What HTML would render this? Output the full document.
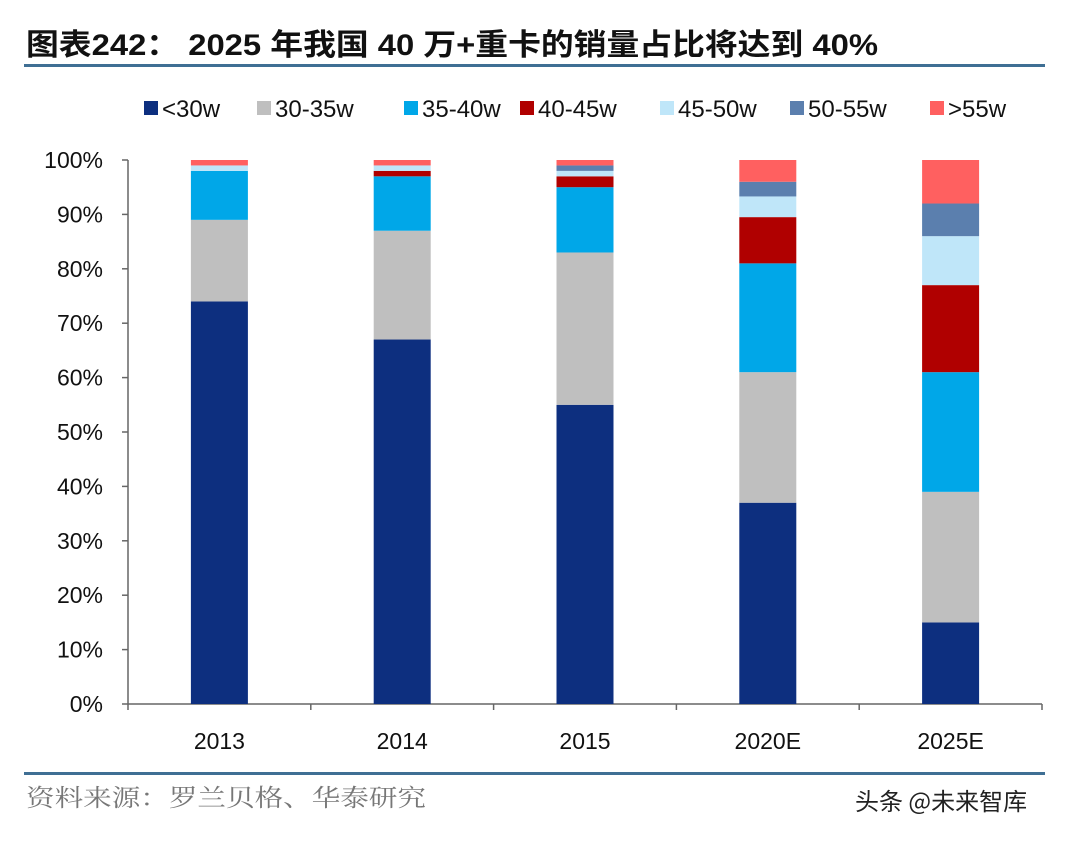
<!DOCTYPE html>
<html><head><meta charset="utf-8"><style>
body{margin:0;background:#fff;width:1080px;height:836px;overflow:hidden;font-family:"Liberation Sans","Noto Sans CJK SC",sans-serif}
</style></head><body>
<svg width="1080" height="836" xmlns="http://www.w3.org/2000/svg">
<text x="26" y="55" font-size="30" font-weight="bold" fill="#111" textLength="852" lengthAdjust="spacingAndGlyphs" font-family="'Liberation Sans','Noto Sans CJK SC',sans-serif">图表242： 2025 年我国 40 万+重卡的销量占比将达到 40%</text>
<rect x="24" y="64" width="1021" height="3" fill="#3f6f94"/>
<g id="legend"></g>
<g id="axes"></g>
<g id="bars"></g>
<rect x="24" y="772" width="1021" height="3" fill="#3f6f94"/>
<text x="26" y="806" font-size="24" fill="#777" textLength="400" lengthAdjust="spacingAndGlyphs" font-family="'Noto Serif CJK SC',serif">资料来源：罗兰贝格、华泰研究</text>
<text x="855" y="810" font-size="24" fill="#222" font-family="'Noto Sans CJK SC',sans-serif">头条 @未来智库</text>
</svg>
<script>
const categories=["2013","2014","2015","2020E","2025E"];
const seriesNames=["<30w","30-35w","35-40w","40-45w","45-50w","50-55w",">55w"];
const s30=[74,67,55,37,15];
const s3035=[15,20,28,24,24];
const s3540=[9,10,12,20,22];
const s4045=[0,1,2,8.5,16];
const s4550=[1,1,1,3.8,9];
const s5055=[0,0,1,2.7,6];
const s55=[1,1,1,4,8];
const yTicks=[0,10,20,30,40,50,60,70,80,90,100];
const colors=["#0d2f7f","#bfbfbf","#00a7e8","#b00000","#bfe6f9","#5b7fae","#ff6060"];
const series=[s30,s3035,s3540,s4045,s4550,s5055,s55];
const NS="http://www.w3.org/2000/svg";
const x0=128,x1=1042,y0=704,y1=160;
const yS=v=>y0-(y0-y1)*v/100;
const band=(x1-x0)/categories.length;
const xC=i=>x0+band*(i+0.5);
const bw=57;
function mk(t,a,p){const e=document.createElementNS(NS,t);for(const k in a)e.setAttribute(k,a[k]);p.appendChild(e);return e;}
const ax=document.getElementById('axes');
let l=mk('line',{x1:x0,y1:y1,x2:x0,y2:y0,stroke:'#666','stroke-width':1.5},ax);


l=mk('line',{x1:x0,y1:y0,x2:x1,y2:y0,stroke:'#666','stroke-width':1.5},ax);


yTicks.forEach(v=>{const y=yS(v);
 const tk=mk('line',{x1:x0-6,y1:y,x2:x0,y2:y,stroke:'#666','stroke-width':1.5},ax);
 
 
 const t=mk('text',{x:x0-25,y:y+8,'font-size':23,'text-anchor':'end',fill:'#111'},ax);t.textContent=v+'%';
 
 
});
for(let i=0;i<=categories.length;i++){const x=x0+band*i;
 const tk=mk('line',{x1:x,y1:y0,x2:x,y2:y0+6,stroke:'#666','stroke-width':1.5},ax);
 
 }
categories.forEach((c,i)=>{const t=mk('text',{x:xC(i),y:749,'font-size':23,'text-anchor':'middle',fill:'#111'},ax);t.textContent=c;
 
 });
const bg=document.getElementById('bars');
categories.forEach((c,i)=>{let cum=0;
 series.forEach((s,k)=>{const v=s[i];if(v>0){
  const r=mk('rect',{x:xC(i)-bw/2,y:yS(cum+v),width:bw,height:yS(cum)-yS(cum+v),fill:colors[k]},bg);
  
  }
  cum+=v;});});
const lg=document.getElementById('legend');
const lx=[144,257,404,520,660,790,930];
seriesNames.forEach((n,k)=>{
 const r=mk('rect',{x:lx[k],y:101,width:14,height:14,fill:colors[k]},lg);
 
 
 const t=mk('text',{x:lx[k]+18,y:117,'font-size':24,fill:'#111'},lg);t.textContent=n;
 
 
});
</script>
</body></html>
